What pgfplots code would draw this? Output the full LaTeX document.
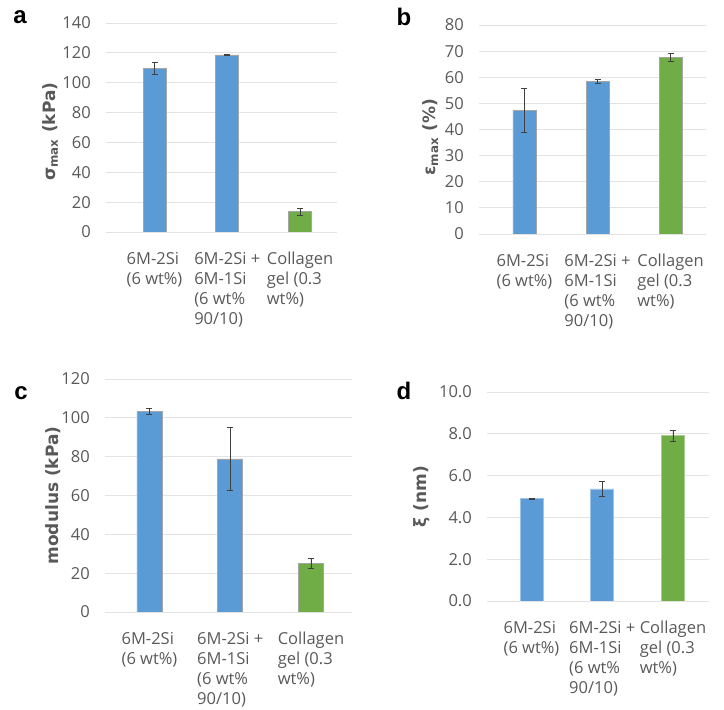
\documentclass[border=0pt]{standalone}
\usepackage{pgfplots}
\pgfplotsset{compat=1.18}
\usepackage{fontspec}
\setmainfont{Open Sans}
\newfontfamily\labfont{DejaVu Sans}
\newfontfamily\letfont{Liberation Sans}
\definecolor{barblue}{HTML}{5B9BD5}
\definecolor{bargreen}{HTML}{70AD47}
\definecolor{txtgray}{HTML}{595959}
\definecolor{gridgray}{HTML}{E3E3E3}
\definecolor{bordergray}{HTML}{A5A5A5}
\definecolor{errgray}{HTML}{404040}
\pgfplotsset{
  panel/.style={
    scale only axis, anchor=south west,
    ybar, bar shift=0pt,
    axis line style={draw=none},
    major tick length=0pt,
    ymajorgrids, grid style={gridgray, line width=0.9pt},
    xtick={0,1,2},
    xticklabels={{6M-2Si\\(6 wt\%)},{6M-2Si +\\6M-1Si\\(6 wt\%\\90/10)},{Collagen\\gel (0.3\\wt\%)}},
    xticklabel style={align=left, anchor=north, inner sep=0pt, yshift=-20pt, font=\fontsize{16.5}{20}\selectfont, text=txtgray},
    yticklabel style={anchor=east, inner sep=0pt, xshift=-15pt, font=\fontsize{16.5}{18}\selectfont, text=txtgray},
    /pgf/number format/assume math mode=true,
    ylabel style={font=\labfont\bfseries\fontsize{17}{20}\selectfont, text=txtgray, anchor=center},
    ymin=0,
  },
  bluebar/.style={fill=barblue, draw=#1, line width=0.8pt,
    error bars/.cd, y dir=both, y explicit,
    error bar style={errgray, line width=0.9pt},
    error mark options={errgray, rotate=90, mark size=3pt, line width=0.9pt}},
  bluebar/.default=bordergray,
  greenbar/.style={fill=bargreen, draw=#1, line width=0.8pt,
    error bars/.cd, y dir=both, y explicit,
    error bar style={errgray, line width=0.9pt},
    error mark options={errgray, rotate=90, mark size=3pt, line width=0.9pt}},
  greenbar/.default=bordergray,
}
\begin{document}
\begin{tikzpicture}
\path[use as bounding box] (0,0) rectangle (724pt,710pt);

% panel a
\begin{axis}[panel, at={(106pt,478pt)}, width=231pt, height=209pt,
  xmin=-0.667, xmax=2.508, ymax=140, ytick={0,20,...,140}, bar width=23pt,
  ylabel={σ\textsubscript{max} (kPa)},
  ylabel style={at={(axis description cs:-0.242,0.48)}}]
\addplot[bluebar] coordinates {(0,109.5) +- (0,4) (1,118.6) +- (0,0.4)};
\addplot[greenbar] coordinates {(2,13.5) +- (0,2.5)};
\end{axis}

% panel b
\begin{axis}[panel, at={(479pt,476pt)}, width=227pt, height=209pt,
  xmin=-0.623, xmax=2.486, ymax=80, ytick={0,10,...,80}, bar width=23pt,
  ylabel={ε\textsubscript{max} (\%)},
  ylabel style={at={(axis description cs:-0.214,0.462)}}]
\addplot[bluebar] coordinates {(0,47.2) +- (0,8.4) (1,58.4) +- (0,0.7)};
\addplot[greenbar] coordinates {(2,67.5) +- (0,1.5)};
\end{axis}

% panel c
\begin{axis}[panel, at={(105pt,98pt)}, width=247pt, height=233pt,
  xmin=-0.551, xmax=2.508, ymax=120, ytick={0,20,...,120}, bar width=25pt,
  ylabel={modulus (kPa)},
  ylabel style={at={(axis description cs:-0.2085,0.5)}}]
\addplot[bluebar] coordinates {(0,103.1) +- (0,1.5) (1,78.8) +- (0,16.1)};
\addplot[greenbar] coordinates {(2,24.9) +- (0,2.5)};
\end{axis}

% panel d
\begin{axis}[panel, at={(487pt,109pt)}, width=222pt, height=209pt,
  xmin=-0.629, xmax=2.509, ymax=10, ytick={0,2,...,10}, bar width=23pt,
  yticklabel style={/pgf/number format/.cd, fixed, fixed zerofill, precision=1},
  ylabel={ξ (nm)},
  ylabel style={at={(axis description cs:-0.293,0.5)}}]
\addplot[bluebar={barblue!60!white}] coordinates {(0,4.9) +- (0,0.02) (1,5.36) +- (0,0.38)};
\addplot[greenbar={bargreen!60!white}] coordinates {(2,7.9) +- (0,0.26)};
\end{axis}

\node[font=\letfont\bfseries\fontsize{24}{24}\selectfont] at (20pt,693pt) {a};
\node[font=\letfont\bfseries\fontsize{24}{24}\selectfont] at (404pt,693pt) {b};
\node[font=\letfont\bfseries\fontsize{24}{24}\selectfont] at (21pt,317pt) {c};
\node[font=\letfont\bfseries\fontsize{24}{24}\selectfont] at (404pt,319pt) {d};
\end{tikzpicture}
\end{document}
